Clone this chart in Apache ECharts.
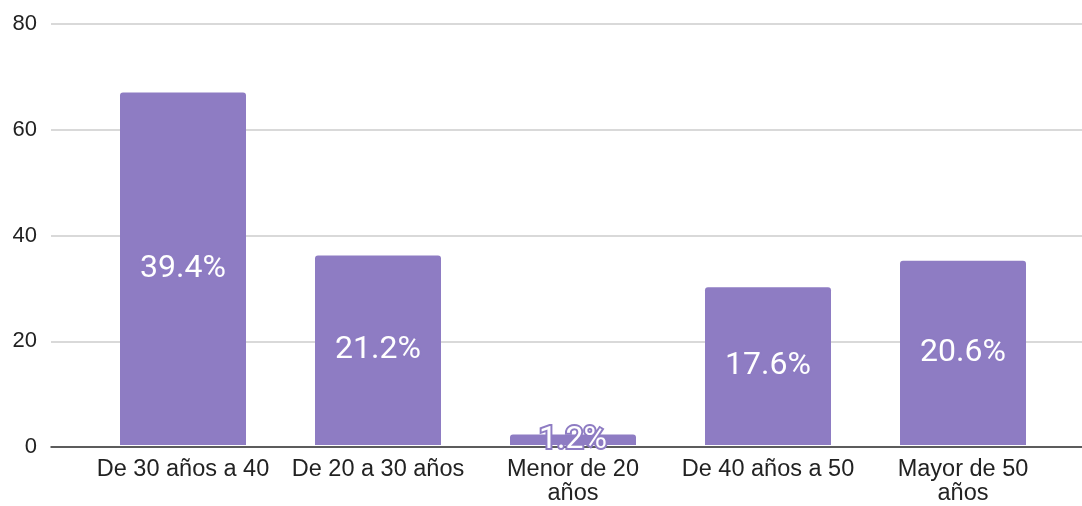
<!DOCTYPE html>
<html>
<head>
<meta charset="utf-8">
<script src="https://cdn.jsdelivr.net/npm/echarts@6/dist/echarts.min.js"></script>
<style>
html,body{margin:0;padding:0;background:#fff;}
#chart{width:1082px;height:506px;}
</style>
</head>
<body>
<div id="chart"></div>
<script>
const categories = ['De 30 años a 40', 'De 20 a 30 años', 'Menor de 20\naños', 'De 40 años a 50', 'Mayor de 50\naños'];
const values = [67, 36, 2, 30, 35];
const percentLabels = ['39.4%', '21.2%', '1.2%', '17.6%', '20.6%'];
const yTicks = [0, 20, 40, 60, 80];

const chart = echarts.init(document.getElementById('chart'));
const AXFONT = '"Liberation Sans", Arial, sans-serif';
const LBLFONT = 'Roboto, "Liberation Sans", sans-serif';
chart.setOption({
  animation: false,
  grid: [
    {left: 51, right: 0, top: 24, bottom: 59},
    {left: 85.5, right: 21.5, top: 24, bottom: 59}
  ],
  xAxis: [
    {gridIndex: 0, type: 'value', min: 0, max: 1, show: true,
     axisLine: {show: true, onZero: false, lineStyle: {color: '#333', width: 1.5}},
     axisTick: {show: false}, axisLabel: {show: false}, splitLine: {show: false}},
    {gridIndex: 1, type: 'category', data: categories,
     axisLine: {show: false}, axisTick: {show: false},
     axisLabel: {color: '#222', fontSize: 23.5, fontFamily: AXFONT, margin: 13,
                 lineHeight: 24, interval: 0, hideOverlap: false}}
  ],
  yAxis: [
    {gridIndex: 0, type: 'value', min: yTicks[0], max: yTicks[yTicks.length-1], interval: 20,
     axisLine: {show: false}, axisTick: {show: false},
     axisLabel: {color: '#222', fontSize: 22, fontFamily: AXFONT, margin: 14},
     splitLine: {lineStyle: {color: '#cccccc', width: 1.5}}},
    {gridIndex: 1, type: 'value', min: 0, max: 80, show: false}
  ],
  series: [{
    type: 'bar', xAxisIndex: 1, yAxisIndex: 1,
    data: values,
    barWidth: 126,
    itemStyle: {color: '#8e7cc3', borderRadius: [3, 3, 0, 0]},
    label: {
      show: true, position: 'inside', color: '#fff', fontSize: 32, fontFamily: LBLFONT,
      textBorderColor: '#8e7cc3', textBorderWidth: 4,
      formatter: p => percentLabels[p.dataIndex]
    }
  }]
});
</script>
</body>
</html>
